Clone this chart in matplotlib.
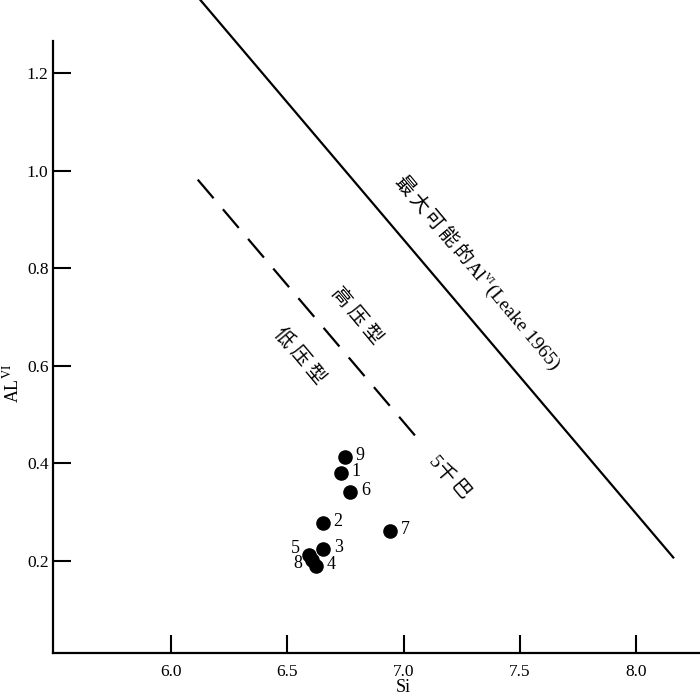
import numpy as np
import matplotlib
matplotlib.use("Agg")
import matplotlib.pyplot as plt

plt.rcParams['font.family'] = ['Liberation Serif', 'Noto Sans CJK SC', 'DejaVu Sans']
plt.rcParams['mathtext.fontset'] = 'stix'

# sample points (Si vs Al VI)
labels = ['1', '2', '3', '4', '5', '6', '7', '8', '9']
si = [6.730, 6.652, 6.654, 6.623, 6.594, 6.769, 6.941, 6.604, 6.747]
al6 = [0.380, 0.277, 0.224, 0.190, 0.213, 0.341, 0.262, 0.201, 0.413]

# reference lines
leake_x = [6.126, 8.16]
leake_y = [1.35, 0.207]
kbar5_x = [6.114, 7.049]
kbar5_y = [0.982, 0.457]

fig = plt.figure(figsize=(7, 7), dpi=100)
ax = fig.add_axes([0.0753, 0.0671, 0.9247, 0.8748])
renderer = fig.canvas.get_renderer()


def text_width(s, fs):
    t = fig.text(0, 0, s, fontsize=fs)
    w = t.get_window_extent(renderer).width
    t.remove()
    return w


def place_along(cx, cy, parts, angle=-50):
    # parts: (text, fontsize, raise in px, gap after in px); cx, cy in pixels from top-left
    th = np.radians(angle)
    d = np.array([np.cos(th), np.sin(th)])
    p = np.array([-np.sin(th), np.cos(th)])
    widths = [text_width(s, fs) for s, fs, r, g in parts]
    total = sum(widths) + sum(g for s, fs, r, g in parts[:-1])
    base_fs = parts[0][1] * 100 / 72
    start = np.array([cx, 700 - cy]) - d * total / 2 - p * base_fs * 0.35
    pos = 0.0
    for (s, fs, r, g), w in zip(parts, widths):
        xy = start + d * pos + p * r
        fig.text(xy[0], xy[1], s, transform=None, rotation=angle,
                 rotation_mode='anchor', ha='left', va='baseline', fontsize=fs)
        pos += w + g


ax.plot(leake_x, leake_y, color='black', lw=1.6, clip_on=False)
ax.plot(kbar5_x, kbar5_y, color='black', lw=1.6, dashes=(11, 6.5))

ax.scatter(si, al6, s=90, color='black', zorder=3)

# label offsets in points
offsets = {'5': (-10, 4), '8': (-10, -2)}
for lab, x, y in zip(labels, si, al6):
    dx, dy = offsets.get(lab, (11, 1))
    ax.annotate(lab, (x, y), xytext=(dx, dy), textcoords='offset points',
                ha='center', va='center', fontsize=13)

cjk = 14
leake_parts = [(c, cjk, 0, 3) for c in '最大可能的']
leake_parts[-1] = ('的', cjk, 0, 1)
leake_parts += [('Al', cjk, 0, 0), ('VI', 8, 8, 0), ('(Leake 1965)', cjk, 0, 0)]
place_along(478, 272, leake_parts)
place_along(357, 315, [('高', cjk, 0, 4), ('压', cjk, 0, 4), ('型', cjk, 0, 0)])
place_along(300, 355, [('低', cjk, 0, 4), ('压', cjk, 0, 4), ('型', cjk, 0, 0)])
place_along(450, 477, [('5', cjk, 0, 1), ('千', cjk, 0, 2), ('巴', cjk, 0, 0)])

ax.set_xlim(5.49, 8.275)
ax.set_ylim(0.011, 1.267)
ax.set_xticks([6.0, 6.5, 7.0, 7.5, 8.0])
ax.set_yticks([0.2, 0.4, 0.6, 0.8, 1.0, 1.2])
ax.set_xticklabels(['6.0', '6.5', '7.0', '7.5', '8.0'])
ax.set_yticklabels(['0.2', '0.4', '0.6', '0.8', '1.0', '1.2'])
ax.tick_params(direction='in', length=13, width=1.5, labelsize=12.5)
ax.tick_params(axis='x', pad=8)
ax.tick_params(axis='y', pad=3)

for side in ['top', 'right']:
    ax.spines[side].set_visible(False)
for side in ['left', 'bottom']:
    ax.spines[side].set_linewidth(1.6)

ax.set_xlabel('Si', fontsize=13)
ax.set_ylabel(r'AL$^{\rm VI}$', fontsize=13)
ax.xaxis.set_label_coords(0.541, -0.043)
ax.yaxis.set_label_coords(-0.047, 0.44)

fig.savefig('out.png', dpi=100)
